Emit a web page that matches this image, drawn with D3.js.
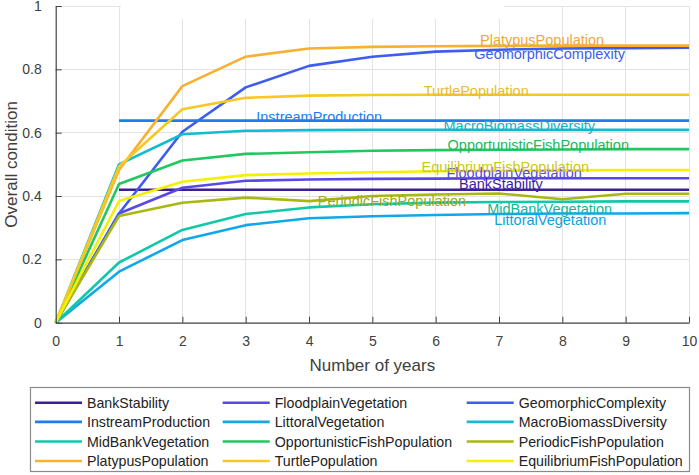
<!DOCTYPE html>
<html>
<head>
<meta charset="utf-8">
<script src="https://cdn.jsdelivr.net/npm/d3@7"></script>
<style>
  html, body { margin: 0; padding: 0; background: #fff; }
  svg { display: block; font-family: Arial, "Liberation Sans", sans-serif; }
</style>
</head>
<body>
<svg id="chart" width="699" height="475"></svg>
<script>
// ---------------- data ----------------
const years = [0, 1, 2, 3, 4, 5, 6, 7, 8, 9, 10];
const xTicks = [0, 1, 2, 3, 4, 5, 6, 7, 8, 9, 10];
const yTicks = [0, 0.2, 0.4, 0.6, 0.8, 1];
const yTickLabels = ["0", "0.2", "0.4", "0.6", "0.8", "1"];

const seriesNames = [
  "BankStability", "FloodplainVegetation", "GeomorphicComplexity",
  "InstreamProduction", "LittoralVegetation", "MacroBiomassDiversity",
  "MidBankVegetation", "OpportunisticFishPopulation", "PeriodicFishPopulation",
  "PlatypusPopulation", "TurtlePopulation", "EquilibriumFishPopulation"
];

const bankStability        = [null, 0.42, 0.42, 0.42, 0.42, 0.42, 0.42, 0.42, 0.42, 0.42, 0.42];
const floodplainVegetation = [0, 0.345, 0.426, 0.448, 0.452, 0.454, 0.455, 0.456, 0.456, 0.456, 0.456];
const geomorphicComplexity = [0, 0.345, 0.603, 0.743, 0.811, 0.840, 0.856, 0.862, 0.866, 0.867, 0.868];
const instreamProduction   = [null, 0.638, 0.638, 0.638, 0.638, 0.638, 0.638, 0.638, 0.638, 0.638, 0.638];
const littoralVegetation   = [0, 0.161, 0.261, 0.308, 0.330, 0.336, 0.340, 0.343, 0.345, 0.345, 0.346];
const macroBiomassDiversity= [0, 0.500, 0.595, 0.606, 0.608, 0.609, 0.609, 0.609, 0.609, 0.609, 0.609];
const midBankVegetation    = [0, 0.190, 0.293, 0.343, 0.364, 0.374, 0.379, 0.381, 0.382, 0.383, 0.383];
const opportunisticFish    = [0, 0.438, 0.512, 0.533, 0.538, 0.543, 0.545, 0.546, 0.547, 0.548, 0.548];
const periodicFish         = [0, 0.337, 0.379, 0.395, 0.384, 0.400, 0.405, 0.408, 0.390, 0.407, 0.407];
const platypusPopulation   = [0, 0.482, 0.747, 0.840, 0.866, 0.871, 0.873, 0.874, 0.875, 0.875, 0.875];
const turtlePopulation     = [0, 0.493, 0.674, 0.710, 0.717, 0.719, 0.720, 0.720, 0.720, 0.720, 0.720];
const equilibriumFish      = [0, 0.384, 0.445, 0.466, 0.471, 0.475, 0.478, 0.480, 0.481, 0.482, 0.482];

const seriesValues = [
  bankStability, floodplainVegetation, geomorphicComplexity, instreamProduction,
  littoralVegetation, macroBiomassDiversity, midBankVegetation, opportunisticFish,
  periodicFish, platypusPopulation, turtlePopulation, equilibriumFish
];

// in-plot label anchors (year, value) — centre of each text
const labelYears  = [7.03, 7.24, 7.80, 4.16, 7.81, 7.32, 7.80, 7.62, 5.31, 7.68, 6.64, 7.10];
const labelValues = [0.438, 0.472, 0.848, 0.649, 0.324, 0.621, 0.361, 0.561, 0.384, 0.893, 0.733, 0.491];

// ---------------- style ----------------
const colors = [
  "#3c1e9c", "#5a48e2", "#3d5cf0", "#1a7ef0", "#10a8e8", "#10bcd0",
  "#10c8a8", "#20c860", "#a8b810", "#f8b030", "#f8c820", "#f4f000"
];
const labelColors = [
  "#3c1e9c", "#5a48e2", "#3d5cf0", "#1a7ef0", "#10a0e0", "#10b4c8",
  "#10b898", "#20b858", "#a0a820", "#eca838", "#e8bc30", "#c8c820"
];

const svg = d3.select("#chart");
const mLeft = 55.7, mRight = 689, mTop = 6, mBottom = 322.7;

const x = d3.scaleLinear().domain([0, 10]).range([mLeft, mRight]);
const y = d3.scaleLinear().domain([0, 1]).range([mBottom, mTop]);

const axisColor = "#404040";
const gridColor = "#e3e3e3";

// grid
const grid = svg.append("g");
grid.selectAll("line.vx").data(xTicks.filter(d => d > 0)).join("line")
  .attr("x1", d => x(d)).attr("x2", d => x(d))
  .attr("y1", y(0)).attr("y2", y(1))
  .attr("stroke", gridColor).attr("stroke-width", 1).attr("shape-rendering", "crispEdges");
grid.selectAll("line.hy").data(yTicks.filter(d => d > 0)).join("line")
  .attr("x1", x(0)).attr("x2", x(10))
  .attr("y1", d => y(d)).attr("y2", d => y(d))
  .attr("stroke", gridColor).attr("stroke-width", 1).attr("shape-rendering", "crispEdges");

// white strip at top (as in reference)
svg.append("rect").attr("x", 121).attr("y", 0).attr("width", 383).attr("height", 19).attr("fill", "#fff");

// lines
const lineGen = d3.line()
  .defined(d => d[1] !== null)
  .x(d => x(d[0])).y(d => y(d[1]));

svg.append("g").selectAll("path").data(seriesValues).join("path")
  .attr("d", vals => lineGen(years.map((yr, i) => [yr, vals[i]])))
  .attr("fill", "none")
  .attr("stroke", (d, i) => colors[i])
  .attr("stroke-width", 2.6)
  .attr("stroke-linejoin", "round");

// axes
const xAxis = d3.axisBottom(x).tickValues(xTicks).tickSizeInner(-6).tickSizeOuter(0).tickPadding(13);
const yAxis = d3.axisLeft(y).tickValues(yTicks).tickFormat((d, i) => yTickLabels[i])
  .tickSizeInner(-6).tickSizeOuter(0).tickPadding(14);

const gx = svg.append("g").attr("transform", `translate(0,${mBottom})`).call(xAxis);
const gy = svg.append("g").attr("transform", `translate(${mLeft},0)`).call(yAxis);
[gx, gy].forEach(g => {
  g.select(".domain").attr("stroke", axisColor).attr("stroke-width", 1.2);
  g.selectAll(".tick line").attr("stroke", axisColor);
  g.selectAll(".tick text").attr("fill", "#404040").attr("font-size", 14)
    .attr("font-family", "Arial, 'Liberation Sans', sans-serif");
});
gx.selectAll(".tick").filter(d => d === 0).select("line").remove();

// axis labels
svg.append("text").attr("x", (mLeft + mRight) / 2).attr("y", 371)
  .attr("text-anchor", "middle").attr("font-size", 17).attr("fill", "#404040")
  .text("Number of years");
svg.append("text").attr("transform", `translate(16.5,${(mTop + mBottom) / 2}) rotate(-90)`)
  .attr("text-anchor", "middle").attr("font-size", 17).attr("fill", "#404040")
  .text("Overall condition");

// in-plot labels
svg.append("g").selectAll("text").data(seriesNames).join("text")
  .attr("x", (d, i) => x(labelYears[i]))
  .attr("y", (d, i) => y(labelValues[i]))
  .attr("dy", "0.36em")
  .attr("text-anchor", "middle")
  .attr("font-size", 14.5)
  .attr("fill", (d, i) => labelColors[i])
  .text(d => d);

// legend
const legend = svg.append("g");
legend.append("rect").attr("x", 30.5).attr("y", 387.5).attr("width", 659).attr("height", 84)
  .attr("fill", "#fff").attr("stroke", "#8a8a8a").attr("stroke-width", 1.2);
const colLineX = [35, 222.7, 466.7];
const rowY = [402.7, 421.9, 441.5, 461];
const items = legend.selectAll("g.item").data(seriesNames).join("g")
  .attr("transform", (d, i) => `translate(${colLineX[i % 3]},${rowY[Math.floor(i / 3)]})`);
items.append("line").attr("x1", 0).attr("x2", 47).attr("y1", 0).attr("y2", 0)
  .attr("stroke", (d, i) => colors[i]).attr("stroke-width", 2.6);
items.append("text").attr("x", 52).attr("y", 0).attr("dy", "0.36em")
  .attr("font-size", 14.2).attr("fill", "#222").text(d => d);
</script>
</body>
</html>
